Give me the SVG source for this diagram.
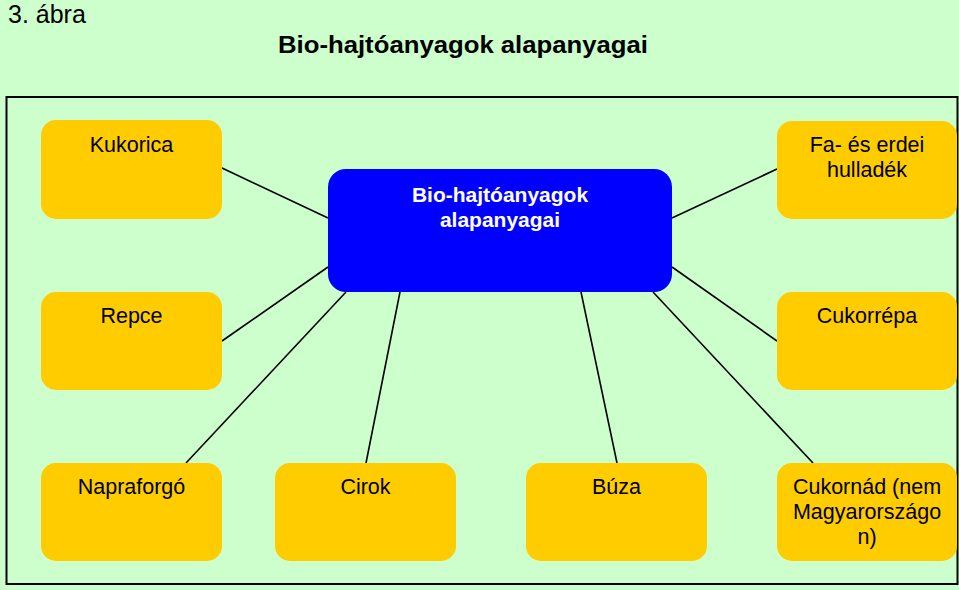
<svg xmlns="http://www.w3.org/2000/svg" width="959" height="590" viewBox="0 0 959 590">
<style>
text{font-family:"Liberation Sans",Arial,sans-serif;}
.box{fill:#FFCC00;}
.lbl{font-size:21.5px;fill:#000;text-anchor:middle;}
.ctr{font-size:21px;font-weight:bold;fill:#fff;text-anchor:middle;}
.con line{stroke:#000;stroke-width:1.6;}
</style>
<rect x="0" y="0" width="959" height="590" fill="#CCFFCC"/>
<text x="8" y="23" font-size="25" fill="#000">3. ábra</text>
<text x="463" y="53" font-size="24" font-weight="bold" fill="#000" text-anchor="middle" textLength="370" lengthAdjust="spacingAndGlyphs">Bio-hajtóanyagok alapanyagai</text>
<rect x="6.5" y="97" width="951" height="487" fill="none" stroke="#000" stroke-width="2"/>
<g id="connectors" class="con">
<line x1="222" y1="168" x2="328" y2="218"/>
<line x1="672" y1="218" x2="777" y2="169"/>
<line x1="222" y1="341" x2="328" y2="267"/>
<line x1="672" y1="267" x2="777" y2="341"/>
<line x1="186" y1="463" x2="346" y2="292"/>
<line x1="366" y1="463" x2="400" y2="292"/>
<line x1="617" y1="463" x2="581" y2="292"/>
<line x1="813" y1="463" x2="653" y2="292"/>
</g>
<g id="center">
<rect x="328" y="169" width="344" height="123" rx="18" fill="#0000FF"/>
<text class="ctr" x="500" y="202">Bio-hajtóanyagok</text>
<text class="ctr" x="500" y="227">alapanyagai</text>
</g>
<g id="kukorica">
<rect class="box" x="41" y="120" width="181" height="99" rx="15"/>
<text class="lbl" x="131.5" y="152">Kukorica</text>
</g>
<g id="fa">
<rect class="box" x="777" y="121" width="180" height="98" rx="15"/>
<text class="lbl" x="867" y="152">Fa- és erdei</text>
<text class="lbl" x="867" y="177">hulladék</text>
</g>
<g id="repce">
<rect class="box" x="41" y="292" width="181" height="98" rx="15"/>
<text class="lbl" x="131.5" y="323">Repce</text>
</g>
<g id="cukorrepa">
<rect class="box" x="777" y="292" width="180" height="98" rx="15"/>
<text class="lbl" x="867" y="323">Cukorrépa</text>
</g>
<g id="napraforgo">
<rect class="box" x="41" y="463" width="181" height="98" rx="15"/>
<text class="lbl" x="131.5" y="494">Napraforgó</text>
</g>
<g id="cirok">
<rect class="box" x="275" y="463" width="181" height="98" rx="15"/>
<text class="lbl" x="365.5" y="494">Cirok</text>
</g>
<g id="buza">
<rect class="box" x="526" y="463" width="181" height="98" rx="15"/>
<text class="lbl" x="616.5" y="494">Búza</text>
</g>
<g id="cukornad">
<rect class="box" x="777" y="463" width="180" height="98" rx="15"/>
<text class="lbl" x="867" y="494">Cukornád (nem</text>
<text class="lbl" x="867" y="519">Magyarországo</text>
<text class="lbl" x="867" y="544">n)</text>
</g>
</svg>
